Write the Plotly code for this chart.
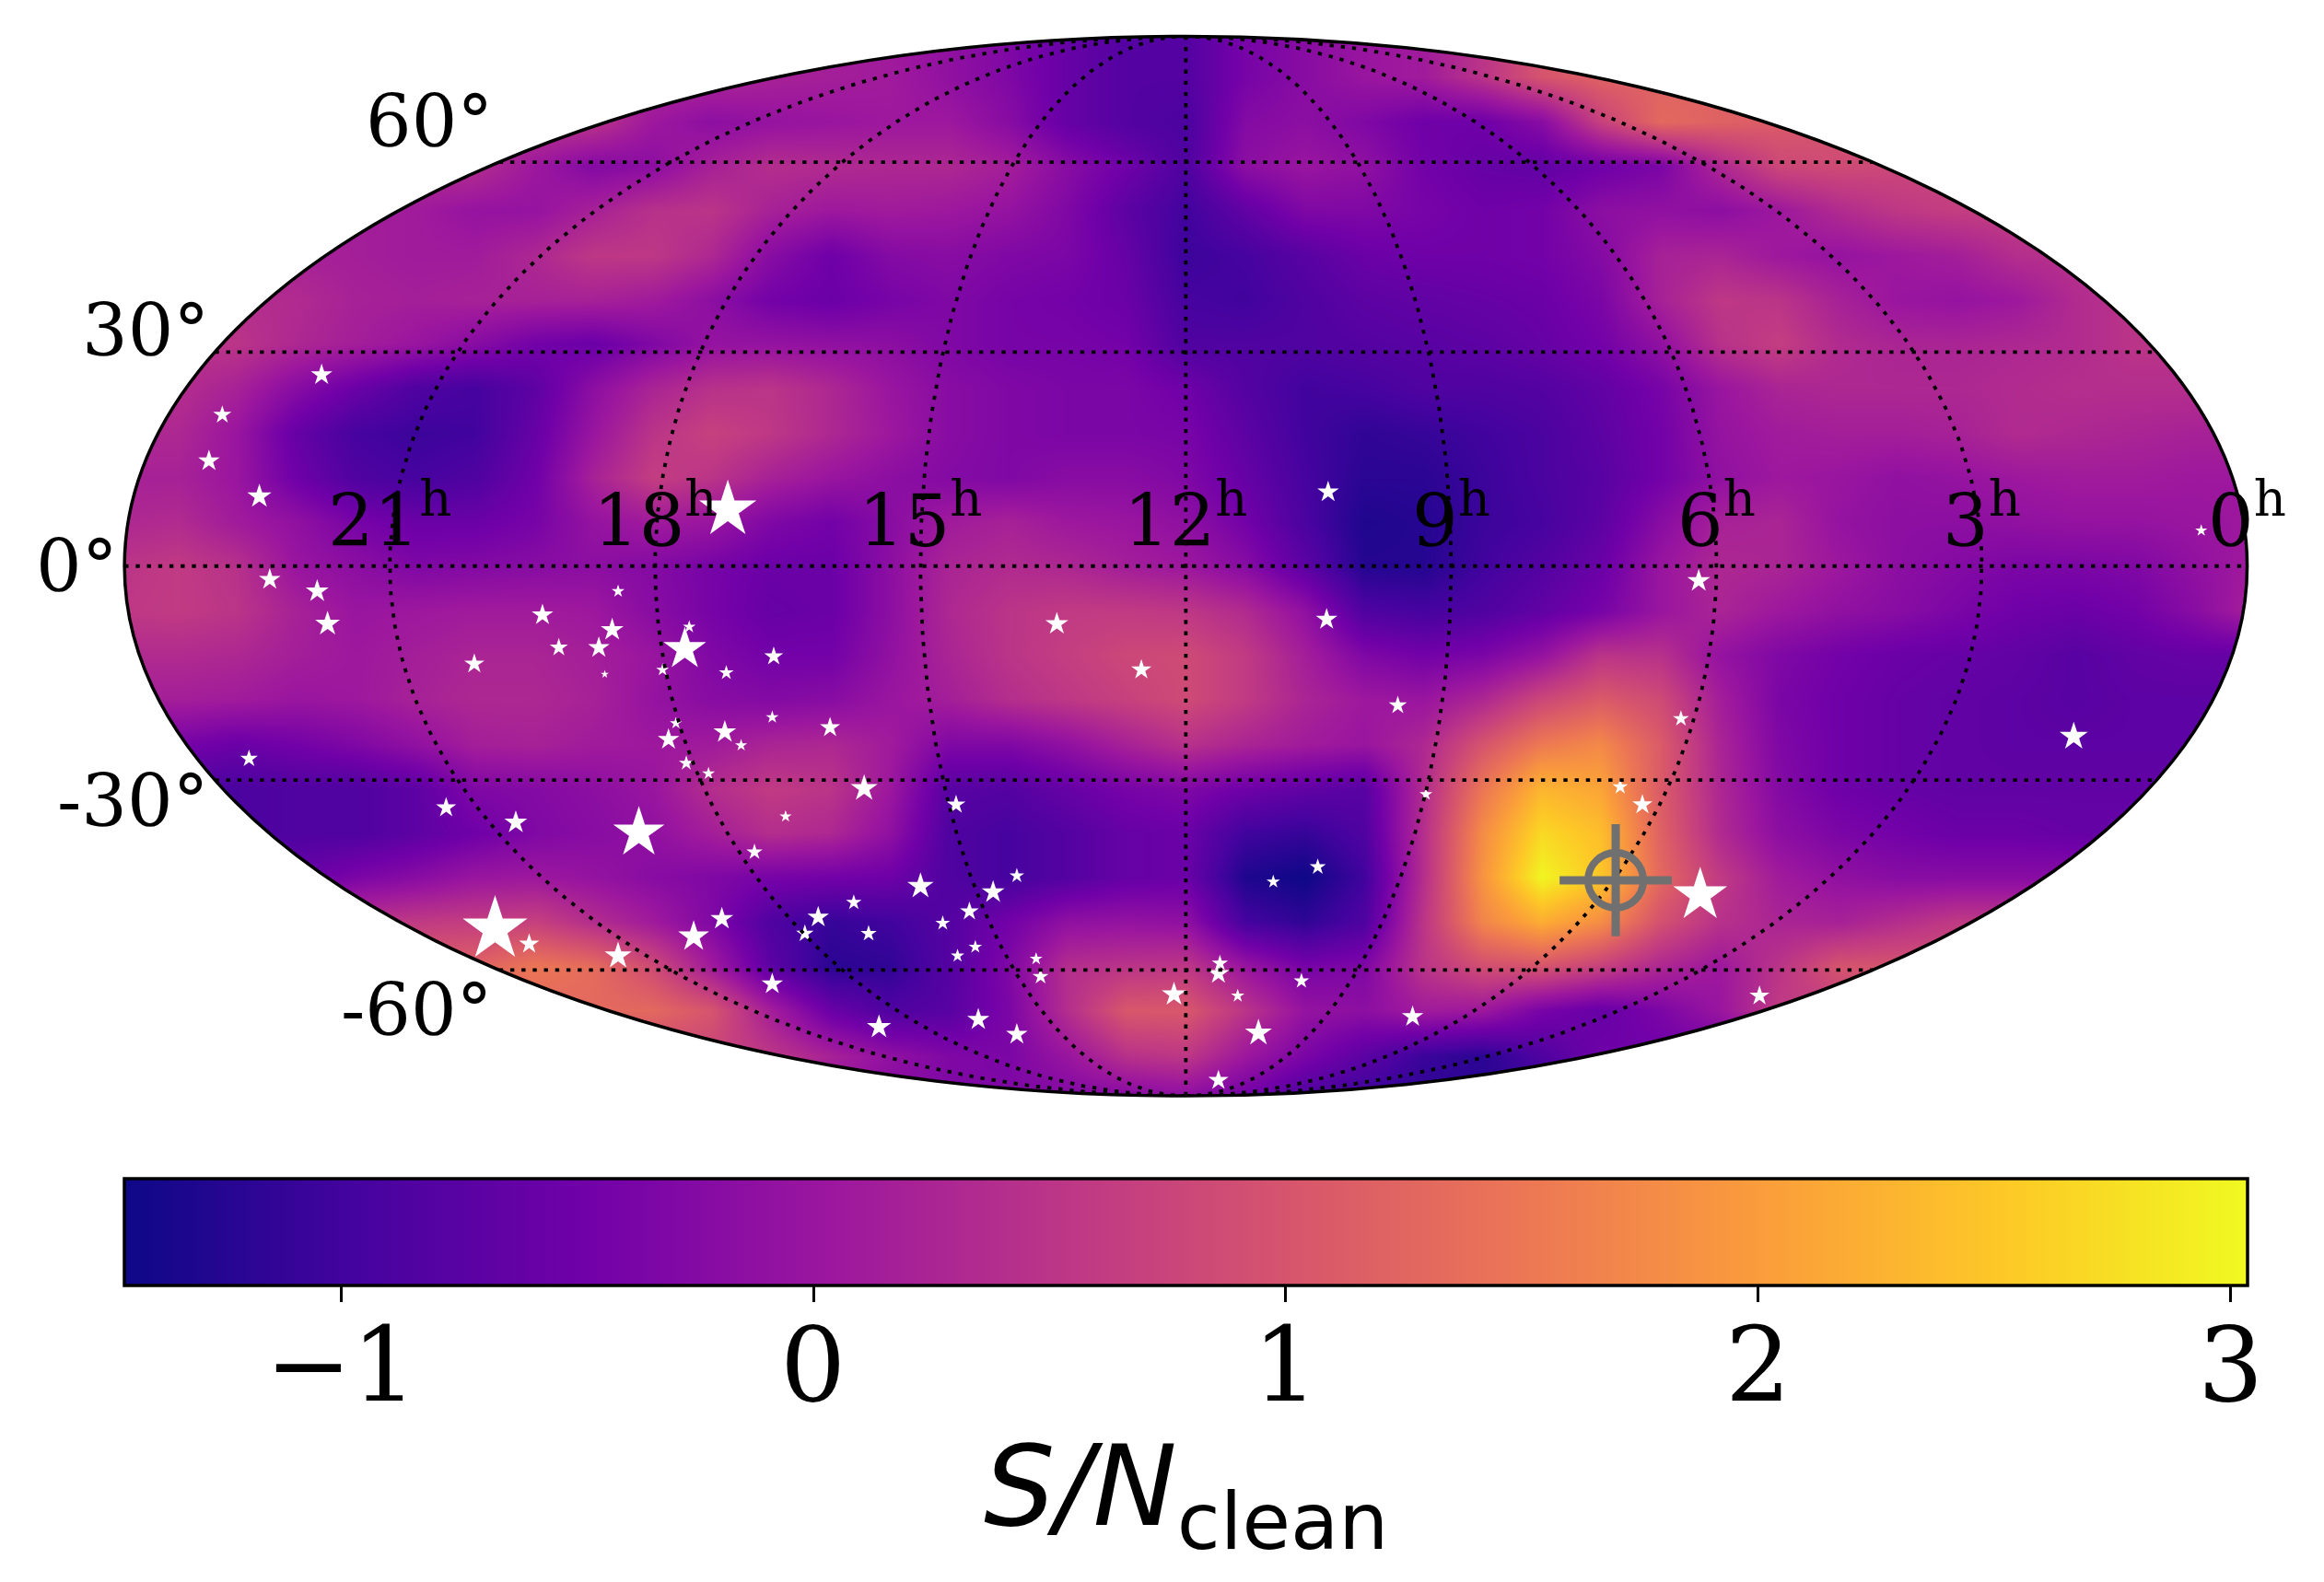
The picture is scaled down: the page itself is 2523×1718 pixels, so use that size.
"""Carte du ciel S/N en projection de Mollweide, avec les pulsars en étoiles."""

import numpy as np
import plotly.graph_objects as go

WIDTH = 2523
HEIGHT = 1718
MAP_A = 716.0
MAP_B = 357.5
SNR_MIN = -1.459
SNR_MAX = 3.037
# La page ajoute 8 px de marge autour de la figure
PAGE_MARGIN = 8
CBAR_LEFT = 135 - PAGE_MARGIN
CBAR_LEN = 2305

# Grille de la carte (unites de la projection)
grid_x = [-720, -680, -640, -600, -560, -520, -480, -440, -400, -360, -320, -280, -240, -200, -160, -120, -80, -40, 0,
          40, 80, 120, 160, 200, 240, 280, 320, 360, 400, 440, 480, 520, 560, 600, 640, 680, 720]
grid_y = [360, 330, 300, 270, 240, 210, 180, 150, 120, 90, 60, 30, 0,
          -30, -60, -90, -120, -150, -180, -210, -240, -270, -300, -330, -360]
snr_grid = [
    [.3, .3, .3, .3, .3, .3, .3, .3, .3, .3, .3, .2, .15, .1, -.1, -.3, -.6, -.8, -.8,
     -.4, -.2, 0, .1, .5, 1, 1.2, 1.2, 1.2, 1.2, 1.2, 1.2, 1.2, 1.2, 1.2, 1.2, 1.2, 1.2],
    [.3, .3, .3, .3, .3, .3, .3, .3, .3, .3, .3, .2, .15, .1, -.1, -.3, -.6, -.8, -.8,
     -.4, -.2, 0, .1, .5, 1, 1.2, 1.2, 1.2, 1.2, 1.2, 1.2, 1.2, 1.2, 1.2, 1.2, 1.2, 1.2],
    [.5, .5, .5, .5, .5, .5, .5, .5, .5, .05, -.15, -.05, 0, .05, .05, -.2, -.6, -.8, -.9,
     -.25, -.15, -.3, -.5, -.5, -.2, .7, 1.3, 1.2, 1.1, 1, 1, 1, 1, 1, 1, 1, 1],
    [.4, .4, .4, .4, .4, .4, .4, .05, -.25, -.15, .2, .4, .35, .3, .3, .15, -.2, -.5, -.85,
     -.15, 0, -.1, -.45, -.6, -.65, -.5, -.35, .3, .8, .85, .8, .8, .8, .8, .8, .8, .8],
    [.15, .15, .15, .15, .15, .1, -.05, -.05, .2, .45, .5, .2, .05, .1, .05, -.05, -.3, -.7, -1,
     -.65, -.3, -.3, -.4, -.5, -.45, -.15, -.1, -.15, .05, .35, .55, .65, .65, .65, .65, .65, .65],
    [.2, .2, .2, .2, .15, .1, .1, .3, .55, .55, .3, -.2, -.5, -.25, -.2, -.3, -.35, -.6, -1.05,
     -.95, -.75, -.55, -.5, -.5, -.45, -.25, .2, .25, .05, -.05, .05, .15, .4, .45, .45, .45, .45],
    [.4, .4, .4, .35, .2, .15, .2, .2, .2, .1, -.15, -.45, -.55, -.4, -.3, -.4, -.45, -.55, -.95,
     -1, -.85, -.7, -.65, -.6, -.55, -.35, .2, .55, .5, .2, 0, -.05, .05, .35, .5, .5, .5],
    [.5, .5, .5, .3, .15, 0, -.2, -.45, -.55, -.3, -.05, -.05, -.1, -.15, -.3, -.4, -.4, -.45, -.85,
     -.85, -.85, -.8, -.75, -.7, -.6, -.45, -.1, .45, .65, .35, .25, .25, .3, .35, .5, .5, .5],
    [.4, .4, .2, -.2, -.55, -.85, -.95, -.7, -.15, .25, .45, .5, .3, 0, -.2, -.3, -.35, -.35, -.5,
     -.8, -1, -.95, -.85, -.85, -.8, -.65, -.4, 0, .25, .3, .3, .3, .35, .4, .4, .4, .4],
    [.3, .3, 0, -.6, -.95, -1.05, -1, -.6, 0, .5, .7, .55, .3, .05, -.2, -.3, -.35, -.35, -.38,
     -.7, -1, -1.15, -1.1, -1, -.9, -.7, -.45, -.05, .1, .15, .15, .2, .35, .3, .25, .2, .2],
    [.2, .2, 0, -.5, -.85, -.95, -.85, -.5, .2, .65, .5, .2, 0, -.15, -.25, -.3, -.2, -.2, -.3,
     -.6, -.95, -1.2, -1.2, -1.05, -.9, -.75, -.45, -.1, .05, 0, -.1, -.05, .05, .1, .1, .05, .05],
    [.3, .35, .1, -.1, -.4, -.55, -.55, -.4, -.05, .1, 0, -.3, -.45, -.2, .1, .2, .05, 0, -.12,
     -.45, -.9, -1.3, -1.25, -1.05, -.95, -.7, -.2, .2, .25, -.05, -.15, -.15, -.1, -.05, -.05, 0, .05],
    [.5, .6, .45, 0, -.15, -.3, -.25, -.2, -.15, -.25, -.4, -.55, -.55, -.15, .25, .35, .3, .15, .05,
     -.2, -.7, -1.25, -1.25, -1, -.8, -.55, 0, .3, .25, .05, -.15, -.25, -.35, -.35, -.3, -.1, .1],
    [.55, .6, .5, .2, 0, .05, .1, .1, .05, -.2, -.4, -.6, -.55, -.15, .3, .5, .6, .6, .55,
     .35, -.1, -.85, -.95, -.85, -.65, -.4, 0, .25, .05, -.1, -.2, -.35, -.5, -.55, -.45, -.2, .2],
    [.35, .35, .3, .15, .05, .15, .25, .25, .15, 0, -.3, -.45, -.45, -.1, .25, .5, .65, .8, .85,
     .6, .15, -.3, -.45, -.35, -.05, .5, .45, -.05, -.3, -.45, -.55, -.6, -.65, -.75, -.65, -.6, -.6],
    [.15, .15, .1, 0, .05, .2, .3, .3, .2, -.05, -.2, -.25, -.2, 0, .15, .4, .55, .7, .85,
     .6, .25, .05, 0, .3, .8, 1.1, .85, .15, -.35, -.5, -.6, -.65, -.7, -.75, -.7, -.7, -.7],
    [-.4, -.4, -.55, -.45, -.3, -.1, .15, .2, .1, .05, .1, .25, .3, .1, -.3, -.3, -.1, .2, .45,
     .25, .1, 0, .3, 1, 1.55, 1.75, 1.1, .25, -.3, -.5, -.6, -.65, -.7, -.7, -.7, -.7, -.7],
    [-.9, -.9, -.9, -.85, -.85, -.7, -.3, -.25, -.15, 0, .4, .6, .5, .05, -.75, -.8, -.6, -.4, -.3,
     -.5, -.65, -.75, .35, 1.5, 2.3, 2.1, 1.1, .3, -.25, -.5, -.6, -.65, -.65, -.65, -.65, -.65, -.65],
    [-.9, -.9, -.9, -.85, -.85, -.7, -.5, -.3, -.2, -.1, .15, .4, .3, -.1, -.85, -.95, -.8, -.6, -.55,
     -1, -1.1, -.85, .4, 1.8, 2.7, 2.4, 1.2, .35, -.15, -.35, -.45, -.55, -.55, -.6, -.6, -.6, -.6],
    [-.6, -.6, -.6, -.6, -.35, -.2, 0, .05, -.05, -.2, -.3, -.4, -.45, -.5, -.85, -.95, -.8, -.6, -.55,
     -1.3, -1.45, -1, .4, 1.9, 3, 2.5, 1.3, .6, .1, -.1, -.2, -.2, -.2, -.2, -.2, -.2, -.2],
    [.3, .3, .3, .3, .5, .6, .65, .7, .4, .1, -.3, -.85, -1.1, -1, -.8, -.45, -.1, -.05, -.1,
     -.95, -1.15, -.85, .5, 1.7, 2.2, 1.8, .95, .45, .25, .2, .4, .6, .6, .6, .6, .6, .6],
    [1.2, 1.2, 1.2, 1.2, 1.2, 1.2, 1.2, 1.5, 1.35, .85, .1, -.7, -1.2, -1.15, -.8, -.3, .4, .5, .55,
     0, -.4, -.3, .5, .9, 1, .7, .3, .05, .5, 1, 1, 1, 1, 1, 1, 1, 1],
    [1.3, 1.3, 1.3, 1.3, 1.3, 1.3, 1.3, 1.3, 1.3, 1.3, 1, .15, -.55, -.85, -.75, -.35, .4, 1.05, 1.05,
     .5, -.05, -.15, .1, .05, -.4, -.6, -.35, 0, .6, .6, .6, .6, .6, .6, .6, .6, .6],
    [.75, .75, .75, .75, .75, .75, .75, .75, .75, .75, .75, .55, .2, -.1, -.3, -.35, 0, .45, .55,
     .05, -.35, -.7, -1.05, -1.2, -.85, -.5, -.5, -.5, -.5, -.5, -.5, -.5, -.5, -.5, -.5, -.5, -.5],
    [.6, .6, .6, .6, .6, .6, .6, .6, .6, .6, .6, .3, 0, -.2, -.3, -.3, -.3, -.3, -.2,
     -.5, -.9, -1.1, -1.2, -1.2, -1.2, -1.2, -1.2, -1.2, -1.2, -1.2, -1.2, -1.2, -1.2, -1.2, -1.2, -1.2, -1.2],
]

# Etoiles (pulsars) : position sur la carte et poids relatif
star_x = [-583, -650, -659, -625, -309, 96, 685, 346, -618, -586, -579, -383, -434, -387, -335, -87, 95, -423,
          -396, -338, -278, -480, -353, -392, -310, -30, 143, -344, -279, 334, -311, -349, -300, -240, 599, -632,
          -337, -322, -217, 293, 162, -155, 308, -499, -270, -452, -369, -291, 89, -114, 59, -179, -130, 347,
          -224, -146, -248, -313, -164, -214, -257, -332, -466, -443, -142, -154, -383, -101, 23, 22, -98, 78,
          -279, -8, 35, 387, -140, 153, -207, -114, 49, 22]
star_y = [129, 102, 71, 47, 38, 50, 24, -10, -9, -17, -39, -17, -33, -43, -41, -39, -36, -55,
          -55, -56, -61, -66, -70, -73, -72, -70, -94, -106, -102, -103, -112, -117, -121, -109, -115, -130,
          -133, -140, -150, -149, -154, -161, -161, -163, -169, -173, -180, -193, -203, -209, -213, -216, -220, -222,
          -227, -233, -237, -238, -241, -248, -248, -250, -245, -255, -257, -263, -263, -265, -268, -275, -277, -280,
          -282, -289, -290, -290, -306, -304, -311, -316, -315, -347]
star_weight = [3.2, 2.7, 3.2, 3.6, 8.5, 3.2, 1.8, 3.4, 3.2, 3.4, 3.7, 1.9, 3.2, 3.4, 1.9, 3.4, 3.2, 2.7,
               3.2, 6.3, 2.8, 3.0, 1.9, 1.2, 2.2, 3.0, 2.7, 1.8, 1.9, 2.4, 3.4, 3.2, 1.8, 3.0, 4.2, 2.6,
               2.2, 1.9, 4.0, 2.3, 1.9, 2.8, 3.0, 3.0, 1.8, 3.4, 7.6, 2.4, 2.4, 2.2, 2.0, 3.9, 3.4, 8.0,
               2.3, 2.8, 3.2, 3.4, 2.2, 2.4, 2.6, 4.6, 9.6, 3.0, 2.0, 2.0, 4.0, 1.9, 2.4, 3.2, 2.4, 2.3,
               3.2, 3.6, 2.0, 3.0, 3.3, 3.2, 3.6, 3.2, 4.0, 3.0]

target_x = [290]
target_y = [-212]

ra_hours = [21, 18, 15, 12, 9, 6, 3, 0]
meridian_hours = [21, 18, 15, 12, 9, 6, 3]
dec_degrees = [60, 30, 0, -30, -60]
cbar_ticks = [-1, 0, 1, 2, 3]
cbar_labels = ["−1", "0", "1", "2", "3"]


def parallel_theta(dec):
    """Angle auxiliaire de Mollweide pour une declinaison (en degres)."""
    target = np.pi * np.sin(np.radians(dec))
    theta = np.radians(dec)
    for _ in range(50):
        denom = 2 + 2 * np.cos(2 * theta)
        if abs(denom) < 1e-9:
            break
        theta -= (2 * theta + np.sin(2 * theta) - target) / denom
    return theta


fig = go.Figure()

fig.add_trace(go.Heatmap(
    x=grid_x, y=grid_y, z=snr_grid,
    zmin=SNR_MIN, zmax=SNR_MAX,
    colorscale="Plasma",
    zsmooth="best",
    hoverinfo="skip",
    colorbar=dict(
        orientation="h",
        xref="container", yref="container",
        x=(CBAR_LEFT + CBAR_LEN / 2) / WIDTH, xanchor="center",
        y=1 - (1280 - PAGE_MARGIN) / HEIGHT, yanchor="top",
        lenmode="pixels", len=CBAR_LEN,
        thickness=116,
        xpad=0, ypad=0,
        outlinecolor="black", outlinewidth=3.5,
        ticks="outside", ticklen=17, tickwidth=2.5, tickcolor="black",
        tickvals=cbar_ticks,
        showticklabels=False,
    ),
))

fig.add_trace(go.Scatter(
    x=star_x, y=star_y, mode="markers",
    marker=dict(symbol="star", color="white", opacity=1, size=star_weight, sizemode="diameter", sizeref=1 / 5.5,
                line=dict(width=0)),
    showlegend=False, hoverinfo="skip",
))

# Grille : meridiens puis paralleles
dotted = dict(color="black", width=3.8, dash="4.4px,7.8px")
theta_line = np.linspace(-np.pi / 2, np.pi / 2, 181)
for hour in meridian_hours:
    frac = -(hour - 12) / 12
    fig.add_trace(go.Scatter(
        x=MAP_A * frac * np.cos(theta_line), y=MAP_B * np.sin(theta_line),
        mode="lines", line=dotted, showlegend=False, hoverinfo="skip",
    ))
for dec in dec_degrees:
    theta = parallel_theta(dec)
    half = MAP_A * np.cos(theta)
    fig.add_trace(go.Scatter(
        x=[-half, half], y=[MAP_B * np.sin(theta)] * 2,
        mode="lines", line=dotted, showlegend=False, hoverinfo="skip",
    ))

fig.add_trace(go.Scatter(
    x=target_x, y=target_y, mode="markers",
    marker=dict(symbol="circle-open", size=60, color="#707070", opacity=1, line=dict(width=8, color="#707070")),
    showlegend=False, hoverinfo="skip",
))
fig.add_trace(go.Scatter(
    x=target_x, y=target_y, mode="markers",
    marker=dict(symbol="cross-thin-open", size=87, color="#707070", opacity=1, line=dict(width=9, color="#707070")),
    showlegend=False, hoverinfo="skip",
))

# Masque blanc autour de l'ellipse, puis contour
angle = np.linspace(0, 2 * np.pi, 361)
outline = " ".join(
    f"{'M' if i == 0 else 'L'} {MAP_A * np.cos(a):.2f},{MAP_B * np.sin(a):.2f}" for i, a in enumerate(angle)
)
mask_path = f"M -760,377 L 760,377 L 760,-382 L -760,-382 Z {outline} Z"
fig.add_shape(type="path", path=mask_path, fillcolor="white", fillrule="evenodd",
              line=dict(width=0), layer="above")
fig.add_shape(type="circle", x0=-MAP_A, x1=MAP_A, y0=-MAP_B, y1=MAP_B,
              line=dict(color="black", width=3.5), layer="above")

label_font = dict(family="DejaVu Serif", size=78, color="black")
for hour in ra_hours:
    fig.add_annotation(
        x=-(hour - 12) / 12 * MAP_A, y=0, text=f"{hour}<sup>h</sup>", showarrow=False,
        xanchor="center", yanchor="bottom", yshift=2, font=label_font,
    )
for dec in dec_degrees:
    theta = parallel_theta(dec)
    fig.add_annotation(
        x=-MAP_A * np.cos(theta) - 3, y=MAP_B * np.sin(theta) * 1.1, text=f"{dec}°", showarrow=False,
        xanchor="right", yanchor="middle", font=label_font,
    )

# Etiquettes de la barre de couleur
for tick, label in zip(cbar_ticks, cbar_labels):
    tick_px = CBAR_LEFT + (tick - SNR_MIN) / (SNR_MAX - SNR_MIN) * CBAR_LEN
    fig.add_annotation(
        xref="paper", yref="paper", x=tick_px / WIDTH, y=1 - (1482 - PAGE_MARGIN) / HEIGHT,
        text=label, showarrow=False, xanchor="center", yanchor="middle",
        font=dict(family="DejaVu Serif", size=112, color="black"),
    )
fig.add_annotation(
    xref="paper", yref="paper", x=(CBAR_LEFT + CBAR_LEN / 2) / WIDTH, y=1 - (1622 - PAGE_MARGIN) / HEIGHT,
    text="<i>S/N</i><sub>clean</sub>", showarrow=False, xanchor="center", yanchor="middle",
    font=dict(family="DejaVu Sans", size=122, color="black"),
)

fig.update_xaxes(range=[-795, 772.8], visible=False, domain=[0, 1])
fig.update_yaxes(range=[-690.5, 377], visible=False, domain=[0, 1])
fig.update_layout(
    width=WIDTH, height=HEIGHT,
    margin=dict(l=0, r=0, t=0, b=0, autoexpand=False),
    paper_bgcolor="white", plot_bgcolor="white",
    showlegend=False,
)

fig.write_html("out.html")
